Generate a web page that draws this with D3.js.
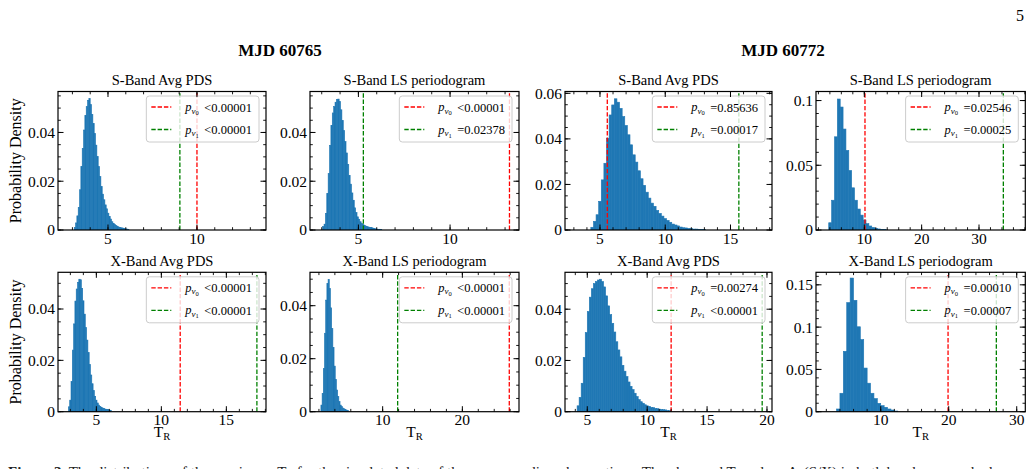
<!DOCTYPE html>
<html>
<head>
<meta charset="utf-8">
<script src="https://cdn.jsdelivr.net/npm/d3@7"></script>
<style>
  body { margin: 0; background: #fff; }
  text { font-family: "Liberation Serif", "DejaVu Serif", serif; }
</style>
</head>
<body>
<div id="chart"></div>
<script>
// ---- data ----
const epochs = ["MJD 60765", "MJD 60772"];
const panelTitles = ["S-Band Avg PDS", "S-Band LS periodogram", "S-Band Avg PDS", "S-Band LS periodogram",
                     "X-Band Avg PDS", "X-Band LS periodogram", "X-Band Avg PDS", "X-Band LS periodogram"];

// histogram bins: first edge, width, heights (probability density)
const binStart = [3.10, 3.05, 4.30, 3.80, 2.85, 2.25, 4.15, 3.50];
const binWidth = [0.075, 0.075, 0.2, 0.5, 0.1, 0.15, 0.17, 0.5];
const dens1 = [0.0011,0.0029,0.0058,0.0093,0.0165,0.026,0.0335,0.041,0.047,0.0506,0.0532,0.0539,0.0514,0.0474,0.0437,0.0396,0.0348,0.0301,0.026,0.0219,0.0178,0.0147,0.0124,0.0103,0.0087,0.0069,0.0056,0.0045,0.0034,0.0027,0.0022,0.0018,0.0015,0.0012,0.0011,0.0009,0.0008,0.0007,0.0005,0.0004,0.0003];
const dens2 = [0.0014,0.0024,0.0068,0.015,0.0231,0.0347,0.0429,0.048,0.0506,0.0524,0.0535,0.0537,0.0527,0.0493,0.0449,0.0408,0.0363,0.0316,0.0269,0.0224,0.0188,0.0152,0.0122,0.0091,0.0072,0.0054,0.0044,0.0034,0.0027,0.0022,0.0019,0.0016,0.0014,0.0012,0.0011,0.001,0.0008,0.0007,0.0005,0.0004,0.0003,0.0003,0.0002];
const dens3 = [0.0012,0.0038,0.0067,0.0126,0.022,0.0293,0.0403,0.0505,0.0549,0.0576,0.0561,0.0534,0.0498,0.0459,0.0418,0.0374,0.033,0.0298,0.026,0.0225,0.0196,0.0166,0.014,0.0118,0.0104,0.0086,0.0073,0.0061,0.005,0.0042,0.0034,0.0026,0.0022,0.0018,0.0013,0.001,0.0009,0.0007,0.0006,0.0004,0.0004,0.0003,0.0002,0.0002];
const dens4 = [0.0056,0.023,0.072,0.1012,0.095,0.078,0.0615,0.046,0.0326,0.023,0.0162,0.0115,0.0077,0.0049,0.0031,0.002,0.0013,0.0008,0.0005,0.0003];
const dens5 = [0.0019,0.0045,0.0117,0.024,0.0342,0.0431,0.0478,0.0504,0.0516,0.0514,0.048,0.0432,0.038,0.0328,0.0279,0.023,0.0184,0.0143,0.0109,0.0082,0.006,0.0045,0.0034,0.0026,0.0021,0.0017,0.0014,0.0012,0.001,0.0009,0.0008,0.0006,0.0005];
const dens6 = [0.0025,0.0069,0.0163,0.0296,0.0421,0.0484,0.0499,0.0465,0.0392,0.0314,0.0243,0.0172,0.0122,0.0082,0.0057,0.0038,0.0025,0.0019,0.0014,0.0011,0.0009,0.0006,0.0005];
const dens7 = [0.0023,0.0056,0.0111,0.0212,0.0309,0.0391,0.0447,0.048,0.05,0.0508,0.0514,0.0517,0.0508,0.0487,0.0452,0.0413,0.0379,0.0345,0.0311,0.0273,0.0241,0.0214,0.0181,0.0158,0.0137,0.0116,0.0099,0.0086,0.0072,0.0059,0.0047,0.0039,0.0033,0.0027,0.0023,0.0021,0.0017,0.0016,0.0013,0.0012,0.001,0.0009,0.0008,0.0007,0.0005,0.0004];
const dens8 = [0.0032,0.0218,0.0714,0.129,0.158,0.1317,0.1004,0.0853,0.0516,0.0337,0.0218,0.0155,0.0099,0.0071,0.0052,0.0032,0.002,0.0008];
const densities = [dens1, dens2, dens3, dens4, dens5, dens6, dens7, dens8];

// axis ranges and ticks
const xDomains = [[2.19,13.88],[2.36,13.76],[2.32,18.18],[1.58,38.07],[2.05,18.05],[0.88,27.11],[3.14,20.42],[0.48,31.26]];
const yMax = [0.0568, 0.0568, 0.0608, 0.107, 0.0543, 0.0526, 0.0544, 0.1648];
const xTickStep = [5, 5, 5, 10, 5, 10, 5, 10];
const yTickStep = [0.02, 0.02, 0.02, 0.05, 0.02, 0.02, 0.02, 0.05];

// observed T_R lines and p-values
const nu0Lines = [10.0, 13.24, 5.56, 10.12, 11.45, 25.89, 12.0, 19.9];
const nu1Lines = [9.04, 5.27, 15.64, 34.24, 17.35, 11.88, 19.6, 27.0];
const pNu0 = ["<0.00001", "<0.00001", "=0.85636", "=0.02546", "<0.00001", "<0.00001", "=0.00274", "=0.00010"];
const pNu1 = ["<0.00001", "=0.02378", "=0.00017", "=0.00025", "<0.00001", "<0.00001", "<0.00001", "=0.00007"];

// ---- layout ----
const W = 1034, H = 469;
const colLeft = [58, 310, 565, 816];
const colRight = [266, 519, 772, 1025.3];
const rowTop = [91.5, 272.3];
const rowBottom = [230, 411.7];

const svg = d3.select("#chart").append("svg")
    .attr("width", W).attr("height", H);

// page number and epoch headers
svg.append("text").attr("x", 1020).attr("y", 21).attr("text-anchor", "middle")
    .style("font-size", "16px").text("5");
svg.selectAll(".epoch").data(epochs).enter().append("text")
    .attr("class", "epoch")
    .attr("x", (d, i) => i === 0 ? 280 : 783)
    .attr("y", 56)
    .attr("text-anchor", "middle")
    .style("font-size", "17px").style("font-weight", "bold")
    .text(d => d);

function tickValues(domain, step) {
    const k0 = Math.ceil(domain[0] / step - 1e-9), k1 = Math.floor(domain[1] / step + 1e-9);
    return d3.range(k0, k1 + 1).map(k => +(k * step).toFixed(6));
}

densities.forEach((dens, p) => {
    const row = Math.floor(p / 4), col = p % 4;
    const left = colLeft[col], right = colRight[col], top = rowTop[row], bottom = rowBottom[row];

    const x = d3.scaleLinear().domain(xDomains[p]).range([left, right]);
    const y = d3.scaleLinear().domain([0, yMax[p]]).range([bottom, top]);

    const g = svg.append("g");

    // clip for inside the axes
    const clipId = "clip" + p;
    g.append("clipPath").attr("id", clipId).append("rect")
        .attr("x", left).attr("y", top).attr("width", right - left).attr("height", bottom - top);
    const inner = g.append("g").attr("clip-path", `url(#${clipId})`);

    // histogram
    const bins = dens.map((v, i) => ({ x0: binStart[p] + i * binWidth[p], x1: binStart[p] + (i + 1) * binWidth[p], v }));
    inner.selectAll("rect.bar").data(bins).enter().append("rect")
        .attr("class", "bar")
        .attr("x", d => x(d.x0))
        .attr("width", d => x(d.x1) - x(d.x0))
        .attr("y", d => y(d.v))
        .attr("height", d => y(0) - y(d.v))
        .attr("fill", "#1f77b4")
        .attr("stroke", "#1f77b4").attr("stroke-width", 0.6);

    // dashed threshold lines
    [[nu0Lines[p], "#ff0000"], [nu1Lines[p], "#008000"]].forEach(([v, c]) => {
        inner.append("line")
            .attr("x1", x(v)).attr("x2", x(v))
            .attr("y1", bottom).attr("y2", top)
            .attr("stroke", c).attr("stroke-width", 1.3)
            .attr("stroke-dasharray", "4.4,1.9");
    });

    // legend
    const lg = g.append("g");
    const box = lg.append("rect").attr("rx", 3).attr("ry", 3)
        .attr("fill", "#fff").attr("fill-opacity", 0.8)
        .attr("stroke", "#cccccc").attr("stroke-width", 1);
    let maxW = 0;
    const entries = [[pNu0[p], "#ff0000", "0"], [pNu1[p], "#008000", "1"]];
    entries.forEach(([val, c, sub], k) => {
        const yy = 11 + k * 22.5;
        lg.append("line").attr("x1", 5).attr("x2", 25).attr("y1", yy).attr("y2", yy)
            .attr("stroke", c).attr("stroke-width", 1.3).attr("stroke-dasharray", "4.4,1.9");
        const lab = lg.append("text").attr("x", 39).attr("y", yy + 4).style("font-size", "12.5px");
        lab.append("tspan").style("font-style", "italic").text("p");
        lab.append("tspan").attr("dy", 2.5).style("font-size", "9px").style("font-style", "italic").text("ν");
        lab.append("tspan").attr("dy", 1.5).style("font-size", "6.5px").text(sub);
        const vt = lg.append("text").attr("x", 58).attr("y", yy + 4.5)
            .style("font-size", "12.5px").text(val);
        maxW = Math.max(maxW, vt.node().getComputedTextLength());
    });
    const lw = 58 + maxW + 7, lh = 46;
    box.attr("width", lw).attr("height", lh);
    lg.attr("transform", `translate(${right - 7 - lw},${top + 4.5})`);

    // frame
    g.append("rect").attr("x", left).attr("y", top)
        .attr("width", right - left).attr("height", bottom - top)
        .attr("fill", "none").attr("stroke", "#000").attr("stroke-width", 1.2);

    // ticks, inward on all four sides
    const xMaj = tickValues(xDomains[p], xTickStep[p]);
    const xMin = tickValues(xDomains[p], xTickStep[p] / 5);
    const yMaj = tickValues([0, yMax[p]], yTickStep[p]);
    const yMinStep = yTickStep[p] === 0.02 ? 0.005 : 0.01;
    const yMin = tickValues([0, yMax[p]], yMinStep);
    const tk = g.append("g").attr("stroke", "#000");
    const drawX = (vals, len, w) => vals.forEach(v => {
        tk.append("line").attr("x1", x(v)).attr("x2", x(v)).attr("y1", bottom).attr("y2", bottom - len).attr("stroke-width", w);
        tk.append("line").attr("x1", x(v)).attr("x2", x(v)).attr("y1", top).attr("y2", top + len).attr("stroke-width", w);
    });
    const drawY = (vals, len, w) => vals.forEach(v => {
        tk.append("line").attr("y1", y(v)).attr("y2", y(v)).attr("x1", left).attr("x2", left + len).attr("stroke-width", w);
        tk.append("line").attr("y1", y(v)).attr("y2", y(v)).attr("x1", right).attr("x2", right - len).attr("stroke-width", w);
    });
    drawX(xMin, 2.8, 0.9); drawX(xMaj, 5.5, 1);
    drawY(yMin, 2.8, 0.9); drawY(yMaj, 5.5, 1);

    // tick labels
    g.selectAll(".xl").data(xMaj).enter().append("text")
        .attr("x", d => x(d)).attr("y", bottom + 13.5)
        .attr("text-anchor", "middle").style("font-size", "15.5px")
        .text(d => String(d));
    g.selectAll(".yl").data(yMaj).enter().append("text")
        .attr("x", left - 3).attr("y", d => y(d)).attr("dy", "0.35em")
        .attr("text-anchor", "end").style("font-size", "15.5px")
        .text(d => String(+d.toFixed(4)));

    // title
    g.append("text").attr("x", (left + right) / 2).attr("y", top - 6.5)
        .attr("text-anchor", "middle").style("font-size", "14.5px").text(panelTitles[p]);

    // axis labels
    if (col === 0) {
        g.append("text")
            .attr("transform", `translate(21,${(top + bottom) / 2}) rotate(-90)`)
            .attr("text-anchor", "middle").style("font-size", "16px").text("Probability Density");
    }
    if (row === 1) {
        const xl = g.append("text").attr("x", (left + right) / 2).attr("y", bottom + 25.5)
            .attr("text-anchor", "middle").style("font-size", "15.5px");
        xl.append("tspan").text("T");
        xl.append("tspan").attr("dy", 3).style("font-size", "10.5px").text("R");
    }
});

// caption, cut off by the bottom edge as in the page
svg.append("text").attr("x", 8).attr("y", 477).style("font-size", "15px").attr("fill", "#222")
    .html('<tspan font-weight="bold">Figure 3.</tspan> The distributions of the maximum T<tspan dy="3" font-size="10px">R</tspan><tspan dy="-3"> for the simulated data of the corresponding observations. The observed T</tspan><tspan dy="3" font-size="10px">R</tspan><tspan dy="-3"> values A</tspan><tspan dy="3" font-size="10px">S</tspan><tspan dy="-3">(S/X) in both bands are marked.</tspan>');
</script>
</body>
</html>
